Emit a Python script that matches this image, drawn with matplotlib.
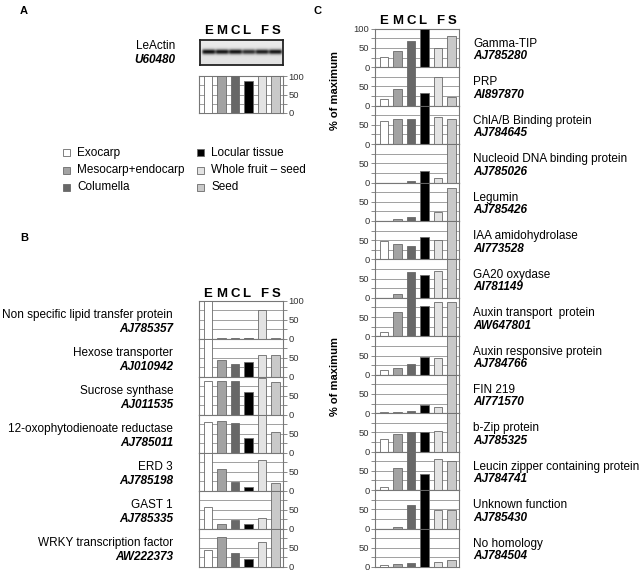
import matplotlib
matplotlib.use('Agg')
import matplotlib.pyplot as plt
import numpy as np
from matplotlib.patches import Rectangle

plt.rcParams['font.family'] = ['Liberation Sans', 'DejaVu Sans']

# ---------------- data ----------------
codes = ['E', 'M', 'C', 'L', 'F', 'S']
tissues = ['Exocarp', 'Mesocarp+endocarp', 'Columella',
           'Locular tissue', 'Whole fruit \u2013 seed', 'Seed']
colors = ['#ffffff', '#a3a3a3', '#686868', '#000000', '#e3e3e3', '#c9c9c9']

actin_name = 'LeActin'
actin_acc = 'U60480'
actin_values = [100, 100, 100, 86, 100, 100]
actin_band = [1.0, 0.97, 0.98, 0.85, 0.93, 0.97]

b_names = ['Non specific lipid transfer protein', 'Hexose transporter',
           'Sucrose synthase', '12-oxophytodienoate reductase', 'ERD 3',
           'GAST 1', 'WRKY transcription factor']
b_acc = ['AJ785357', 'AJ010942', 'AJ011535', 'AJ785011', 'AJ785198',
         'AJ785335', 'AW222373']
b_values = [
    [100, 3, 2, 2, 76, 2],
    [100, 44, 34, 40, 58, 56],
    [90, 88, 88, 61, 96, 87],
    [81, 84, 78, 39, 100, 54],
    [100, 57, 24, 10, 80, 20],
    [59, 12, 23, 13, 28, 100],
    [44, 79, 37, 22, 65, 100],
]

c_names = ['Gamma-TIP', 'PRP', 'ChlA/B Binding protein',
           'Nucleoid DNA binding protein', 'Legumin', 'IAA amidohydrolase',
           'GA20 oxydase', 'Auxin transport  protein', 'Auxin responsive protein',
           'FIN 219', 'b-Zip protein', 'Leucin zipper containing protein',
           'Unknown function', 'No homology']
c_acc = ['AJ785280', 'AI897870', 'AJ784645', 'AJ785026', 'AJ785426',
         'AI773528', 'AI781149', 'AW647801', 'AJ784766', 'AI771570',
         'AJ785325', 'AJ784741', 'AJ785430', 'AJ784504']
c_values = [
    [26, 41, 68, 100, 49, 81],
    [17, 43, 100, 34, 74, 23],
    [60, 66, 66, 100, 71, 64],
    [0, 0, 5, 30, 11, 100],
    [0, 4, 11, 100, 22, 85],
    [48, 40, 35, 59, 51, 100],
    [0, 9, 66, 60, 71, 100],
    [10, 63, 100, 78, 88, 88],
    [12, 17, 28, 45, 44, 100],
    [3, 4, 7, 22, 17, 100],
    [33, 45, 52, 52, 53, 100],
    [7, 58, 100, 42, 80, 76],
    [0, 5, 60, 100, 48, 48],
    [5, 8, 11, 100, 14, 19],
]

# ---------------- layout helpers ----------------
W, H = 640, 573
fig = plt.figure(figsize=(W / 100, H / 100), dpi=100)


def px_axes(x0, y0, x1, y1):
    return fig.add_axes([x0 / W, 1 - y1 / H, (x1 - x0) / W, (y1 - y0) / H])


def ftext(x, y, s, **kw):
    fig.text(x / W, 1 - y / H, s, **kw)


XLIM = (-0.65, 5.55)
letter_dx = [0, 0, 0, -0.2, 0.15, 0]


def draw_bars(ax, vals, side, show100):
    x = np.arange(len(vals))
    ax.bar(x, vals, width=0.62, color=colors, edgecolor='#6a6a6a',
           linewidth=0.6, zorder=3)
    ax.set_xlim(*XLIM)
    ax.set_ylim(0, 100)
    for g in (25, 50, 75):
        ax.axhline(g, color='#a0a0a0', lw=0.7, zorder=1)
    ax.set_xticks([])
    ax.set_yticks([0, 50, 100] if show100 else [0, 50])
    ax.set_yticks([25, 75], minor=True)
    ax.yaxis.set_ticks_position(side)
    ax.tick_params(axis='y', which='both', length=3, width=0.6,
                   color='#777777', labelsize=6.8, labelcolor='#333333', pad=1)
    for s in ax.spines.values():
        s.set_color('#777777')
        s.set_linewidth(0.8)


def header(ax, y_axes):
    for i, c in enumerate(codes):
        ax.text(i + letter_dx[i], y_axes, c, transform=ax.get_xaxis_transform(),
                ha='center', va='bottom', fontsize=9.5, fontweight='bold',
                clip_on=False)


# ---------------- panel letters ----------------
ftext(20, 11, 'A', fontsize=8, fontweight='bold', va='center')
ftext(20, 238, 'B', fontsize=8, fontweight='bold', va='center')
ftext(314, 11, 'C', fontsize=8, fontweight='bold', va='center')

# ---------------- panel A ----------------
gel = px_axes(200, 40, 283, 65)
ny, nx = 60, 240
yy = np.linspace(0, 1, ny)[:, None]
xx = np.linspace(XLIM[0], XLIM[1], nx)[None, :]
img = np.full((ny, nx), 0.92) - 0.04 * yy
for i, a in enumerate(actin_band):
    lane = np.exp(-((xx - i) / 0.5) ** 8)
    img = img - 0.85 * a * lane * np.exp(-((yy - 0.47) / 0.1) ** 2)
gel.imshow(img, cmap='gray', vmin=0, vmax=1, aspect='auto',
           extent=(XLIM[0], XLIM[1], 0, 1), interpolation='bilinear')
gel.set_xlim(*XLIM)
gel.set_ylim(0, 1)
gel.set_xticks([])
gel.set_yticks([])
for s in gel.spines.values():
    s.set_linewidth(1.3)
    s.set_color('#222222')
header(gel, 1.12)

axA = px_axes(199, 76, 283, 113)
draw_bars(axA, actin_values, 'right', True)
ftext(175, 46, actin_name, fontsize=8.5, ha='right', va='center')
ftext(175, 60, actin_acc, fontsize=8.5, ha='right', va='center',
      fontweight='bold', fontstyle='italic')

# ---------------- legend ----------------
leg_pos = [(63, 153), (63, 170.5), (63, 187.5), (197, 153), (197, 170.5), (197, 187.5)]
for (lx, ly), name, col in zip(leg_pos, tissues, colors):
    fig.patches.append(Rectangle(((lx) / W, 1 - (ly + 3.5) / H), 7 / W, 7 / H,
                                 transform=fig.transFigure, facecolor=col,
                                 edgecolor='#6a6a6a', linewidth=0.6))
    ftext(lx + 14, ly, name, fontsize=8.5, va='center', ha='left')

# ---------------- panel B ----------------
b_top = 300.7
b_h = (567.0 - b_top) / len(b_names)
for k, (nm, acc, vals) in enumerate(zip(b_names, b_acc, b_values)):
    y0 = b_top + k * b_h
    ax = px_axes(199, y0, 283, y0 + b_h)
    draw_bars(ax, vals, 'right', k == 0)
    if k == 0:
        header(ax, 1.02)
    cy = y0 + b_h / 2
    ftext(173, cy - 5, nm, fontsize=8.5, ha='right', va='center')
    ftext(173, cy + 9, acc, fontsize=8.5, ha='right', va='center',
          fontweight='bold', fontstyle='italic')

# ---------------- panel C ----------------
c_top = 28.7
c_h = (567.0 - c_top) / len(c_names)
for k, (nm, acc, vals) in enumerate(zip(c_names, c_acc, c_values)):
    y0 = c_top + k * c_h
    ax = px_axes(375, y0, 459, y0 + c_h)
    draw_bars(ax, vals, 'left', k == 0)
    if k == 0:
        header(ax, 1.04)
    cy = y0 + c_h / 2
    ftext(473, cy - 4, nm, fontsize=8.5, ha='left', va='center')
    ftext(473, cy + 8.5, acc, fontsize=8.5, ha='left', va='center',
          fontweight='bold', fontstyle='italic')

for ycen in (90, 377):
    ftext(335, ycen, '% of maximum', fontsize=8, fontweight='bold',
          rotation=90, ha='center', va='center')

fig.savefig('out.png', dpi=100)
